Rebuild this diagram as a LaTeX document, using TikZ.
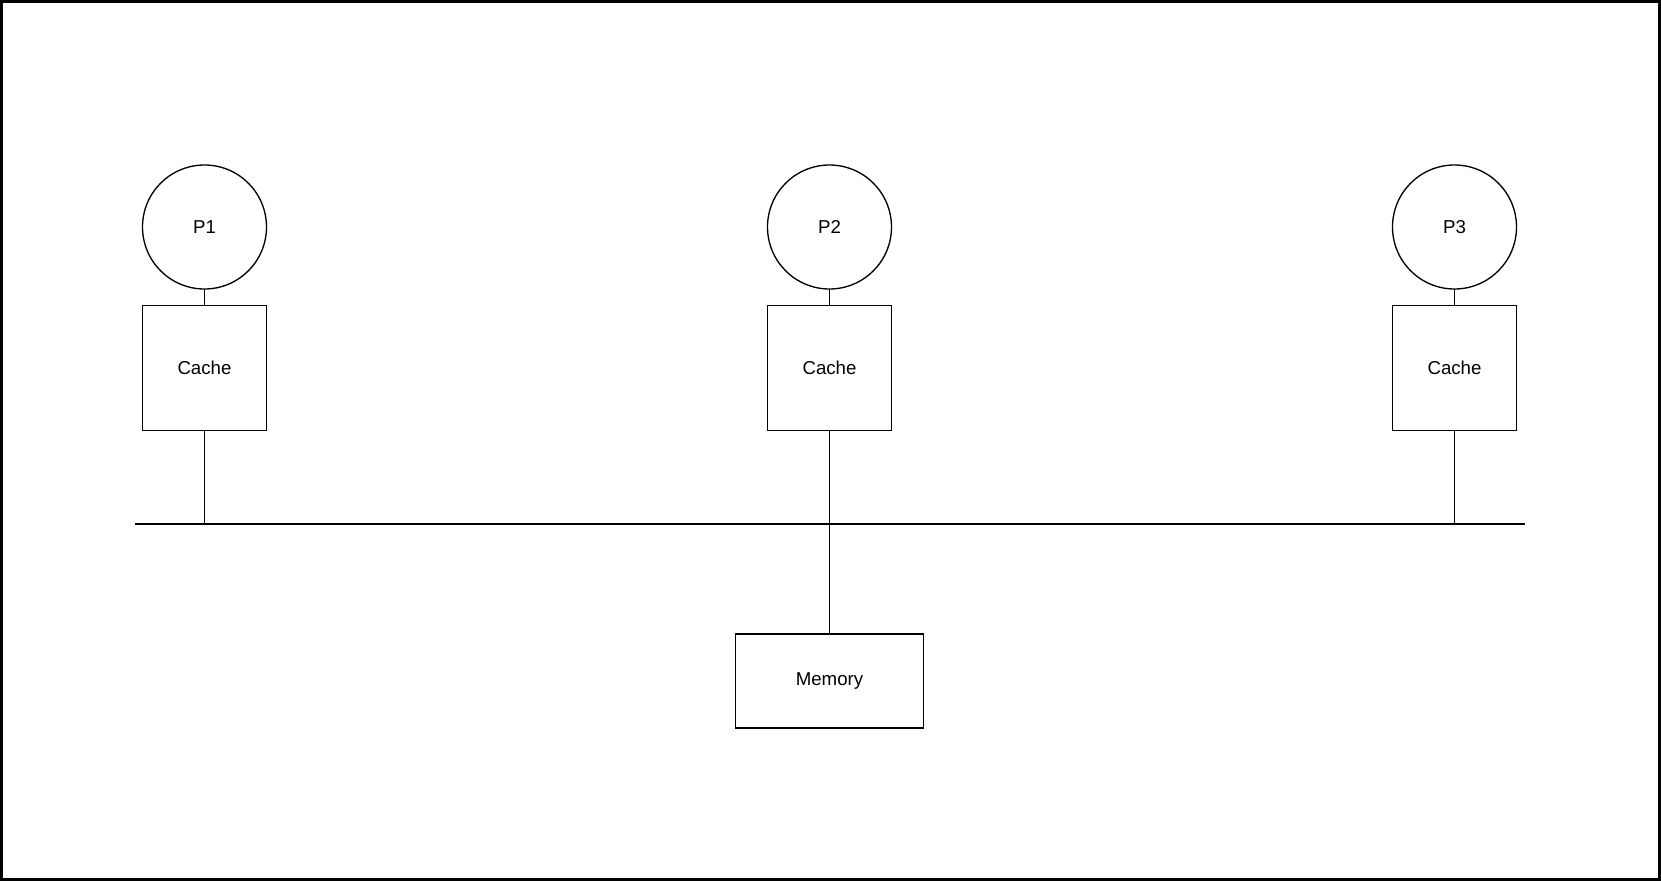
\documentclass[tikz,border=0pt]{standalone}
\usepackage{fontspec}
\setmainfont{Liberation Sans}
\usepackage{tikz}
\newcommand{\procsize}{93pt}
\tikzstyle{unit}=[draw, line width=1pt, inner sep=0, outer sep=0, font=\fontsize{14}{16}\selectfont]
\tikzstyle{proc}=[unit, circle, minimum size=\procsize]
\tikzstyle{cachebox}=[unit, rectangle, minimum width=93.3pt, minimum height=93.3pt]
\tikzstyle{membox}=[unit, rectangle, minimum width=140.7pt, minimum height=70.3pt]
\tikzstyle{wire}=[line width=1pt]
\tikzstyle{smp}=[x=0.75pt, y=-0.75pt]

\begin{document}
\begin{tikzpicture}[smp]
        \useasboundingbox (0, 0) rectangle (1661, 881);
        \draw[line width=2.6pt] (1.5, 1.5) rectangle (1659.5, 879.5);
        \node[proc]     (P1) at (204.5, 227) {P1};
        \node[proc]     (P2) at (829.5, 227) {P2};
        \node[proc]     (P3) at (1454.5, 227) {P3};
        \node[cachebox] (C1) at (204.5, 368) {Cache};
        \node[cachebox] (C2) at (829.5, 368) {Cache};
        \node[cachebox] (C3) at (1454.5, 368) {Cache};
        \node[membox]   (M)  at (829.5, 681) {Memory};
        \coordinate     (busL) at (134.5, 524);
        \coordinate     (busR) at (1525, 524);
        \draw[wire] (busL) -- (busR);
        \draw[wire] (P1) -- (C1);
        \draw[wire] (P2) -- (C2);
        \draw[wire] (P3) -- (C3);
        \draw[wire] (C1) -- (C1 |- busL);
        \draw[wire] (C2) -- (M);
        \draw[wire] (C3) -- (C3 |- busL);
    \end{tikzpicture}
\end{document}
